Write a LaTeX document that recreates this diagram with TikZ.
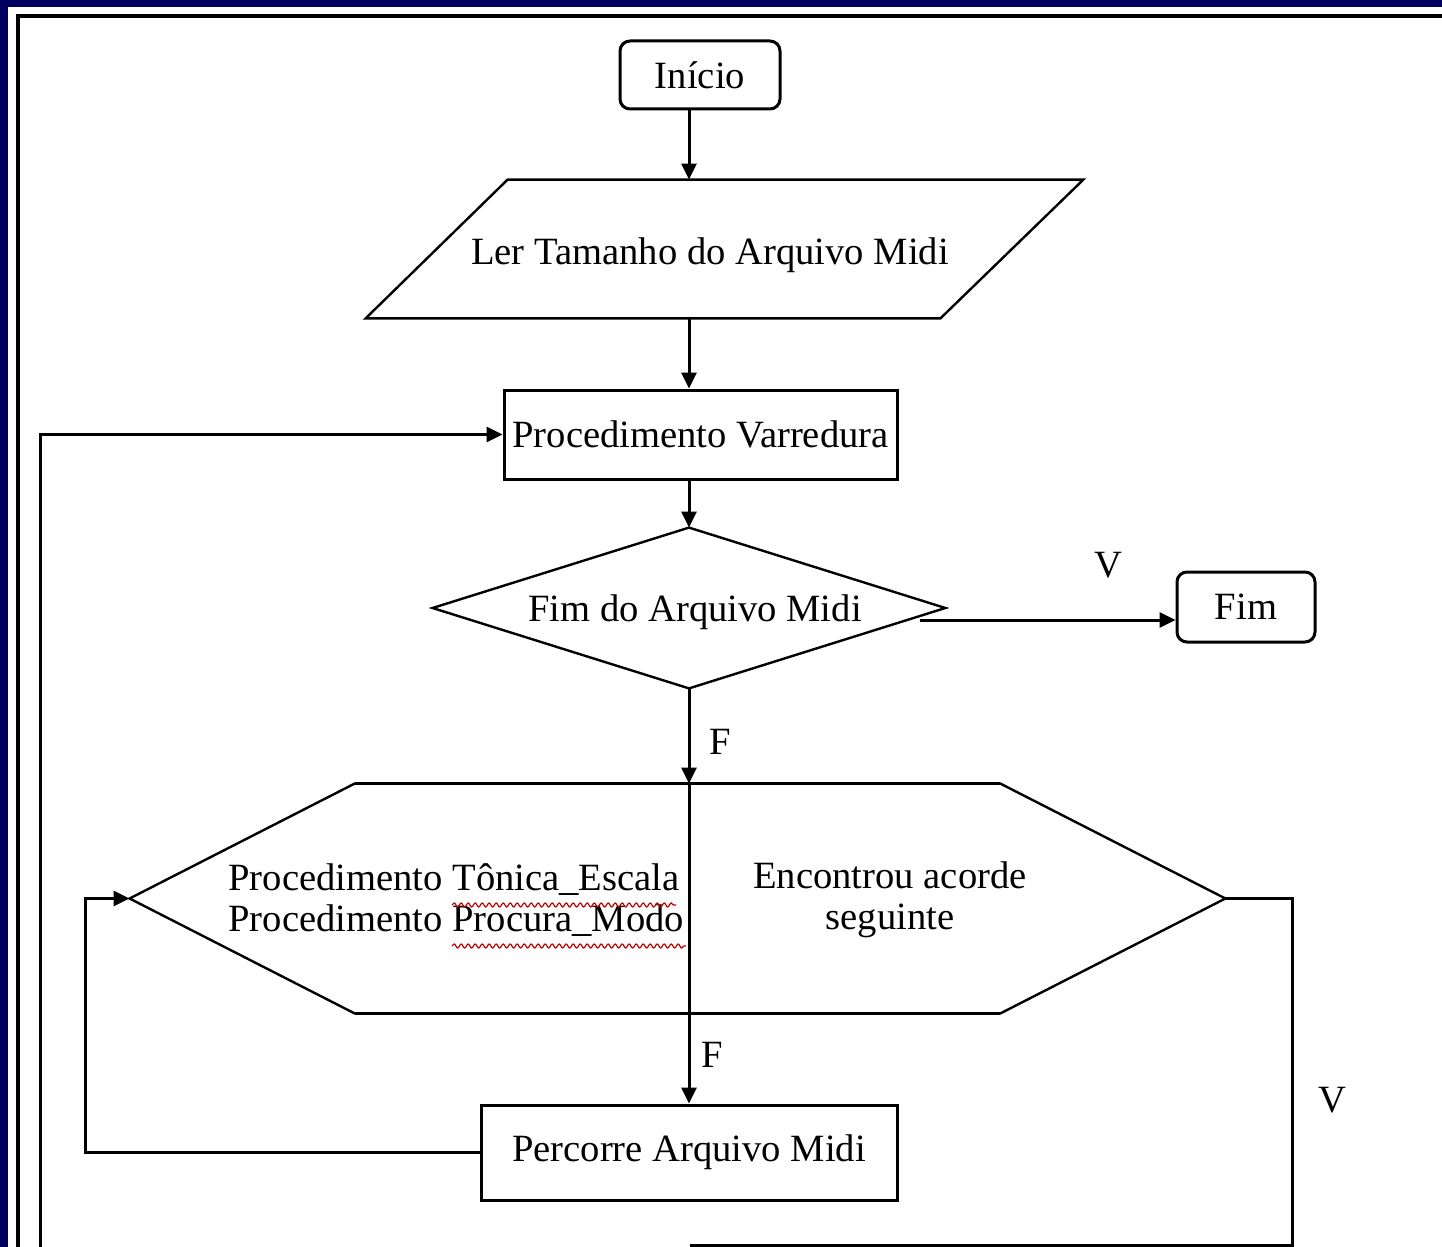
\documentclass[tikz,border=0pt]{standalone}
\usepackage{fontspec}
\setmainfont{Liberation Serif}
\usetikzlibrary{calc,arrows.meta,decorations.pathmorphing}
\definecolor{slideblue}{HTML}{000060}
\begin{document}
\begin{tikzpicture}[x=0.5pt,y=-0.5pt,
  font=\fontsize{19.3}{20.5}\selectfont,
  box/.style={draw, line width=1.5pt, inner sep=0pt, align=center},
  rbox/.style={box, rounded corners=5pt},
  ghost/.style={inner sep=0pt, align=center},
  conn/.style={line width=1.5pt},
  thin conn/.style={line width=1.2pt},
  arr/.style={conn, -{Triangle[length=8pt,width=7.5pt]}},
  lbl/.style={inner sep=0pt},
  spell/.style={red!75!black, line width=0.6pt, decorate, decoration={snake, amplitude=1pt, segment length=3.5pt}}]
\useasboundingbox (0,0) rectangle (1442,1247);
% slide background and frame
\fill[slideblue] (0,0) rectangle (1442,1247);
\fill[white] (8,7) rectangle (1442,1247);
\draw[line width=1.6pt] (18,1247) -- (18,16) -- (1442,16);

% nodes
\node[rbox, minimum width=80pt, minimum height=34pt] (start) at (700,75) {Início};

\node[ghost, minimum width=358.5pt, minimum height=69pt] (read) at (724.5,249) {};
\draw[thin conn] ($(read.north west)+(142,0)$) -- (read.north east) -- ($(read.south east)+(-143,0)$) -- (read.south west) -- cycle;
\node[lbl] (readtxt) at (710,255) {Ler Tamanho do Arquivo Midi};

\node[box, minimum width=196.5pt, minimum height=44.5pt] (varr) at (700.5,434.5) {Procedimento Varredura};

\node[ghost, minimum width=256pt, minimum height=80pt] (dec) at (689,608) {};
\draw[thin conn] (dec.north) -- (dec.east) -- (dec.south) -- (dec.west) -- cycle;
\node[lbl] (dectxt) at (695,612) {Fim do Arquivo Midi};

\node[rbox, minimum width=69pt, minimum height=35pt] (fim) at (1246,607) {Fim};

\node[ghost, minimum width=547.5pt, minimum height=114.5pt] (hex) at (677.5,898.5) {};
\draw[thin conn] ($(hex.north west)+(225,0)$) -- ($(hex.north east)+(-225,0)$) -- (hex.east)
  -- ($(hex.south east)+(-225,0)$) -- ($(hex.south west)+(225,0)$) -- (hex.west) -- cycle;
\draw[conn] ($(hex.north west)+(225,0)$) -- ($(hex.north east)+(-225,0)$);
\draw[conn] ($(hex.south west)+(225,0)$) -- ($(hex.south east)+(-225,0)$);
\node[lbl, anchor=west, align=left] (hexl) at (228,900) {Procedimento Tônica\_Escala\\Procedimento Procura\_Modo};
\node[lbl, align=center] (hexr) at (890,900) {Encontrou acorde\\seguinte};
\draw[spell] (452,905) -- (676,905);
\draw[spell] (452,946) -- (686,946);

\node[box, minimum width=208pt, minimum height=47.5pt] (perc) at (689,1152.5) {\raisebox{3pt}{Percorre Arquivo Midi}};

% labels
\node[lbl] (v1) at (1108,565) {V};
\node[lbl] (f1) at (720,742) {F};
\node[lbl] (f2) at (712,1055) {F};
\node[lbl] (v2) at (1332,1100) {V};

% helper coordinates
\coordinate (ax) at (689,0);
\coordinate (vstart) at (920,620);
\coordinate (lpx) at (85,0);
\coordinate (rpx) at (1292,1245);
\coordinate (rbot) at (690,1245);
\coordinate (lbot) at (40,1250);

% connectors
\draw[arr] (start.south -| ax) -- (read.north -| ax);
\draw[arr] (read.south -| ax) -- (varr.north -| ax);
\draw[arr] (varr.south -| ax) -- (dec.north);
\draw[arr] (vstart) -- (vstart -| fim.west);
\draw[arr] (dec.south) -- (hex.north -| dec.south);
\draw[conn] (hex.north -| dec.south) -- (hex.south -| dec.south);
\draw[arr] (hex.south -| dec.south) -- (perc.north -| dec.south);
\draw[arr] (perc.west) -| (lpx |- hex.west) -- (hex.west);
\draw[conn] (hex.east) -| (rpx) -- (rbot);
\draw[arr] (lbot) |- (varr.west);
\end{tikzpicture}
\end{document}
